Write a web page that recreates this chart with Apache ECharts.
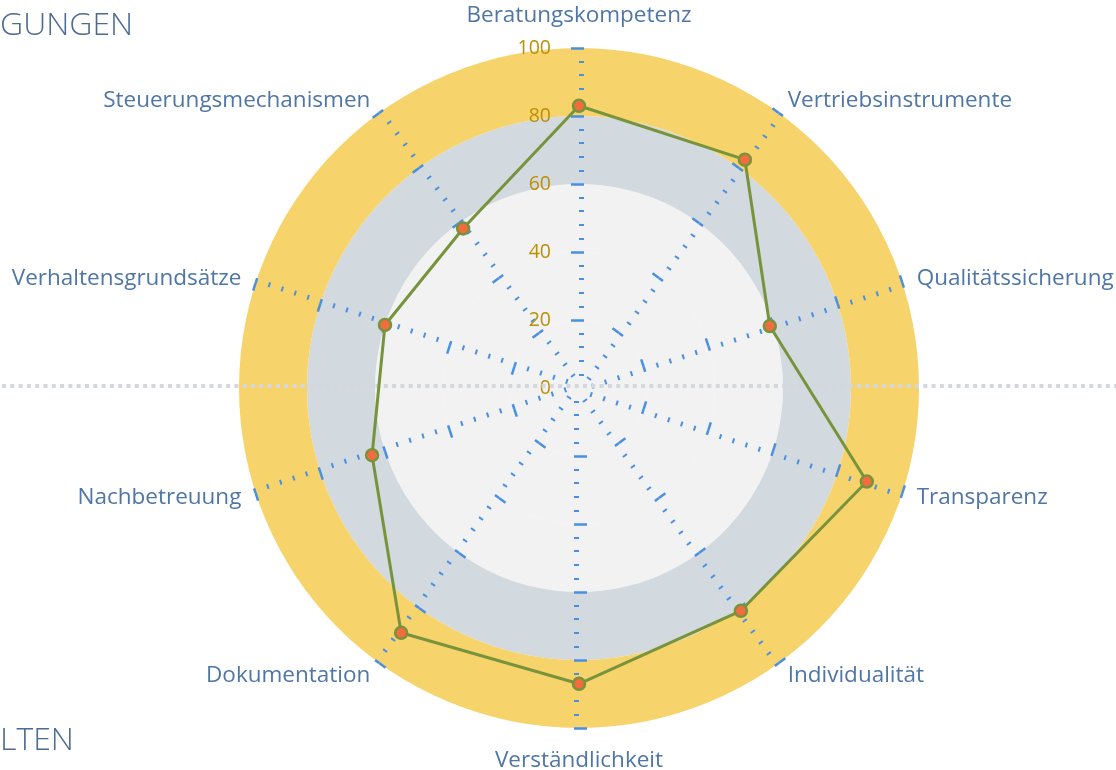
<!DOCTYPE html>
<html><head><meta charset="utf-8">
<script src="https://cdn.jsdelivr.net/npm/echarts@6/dist/echarts.min.js"></script>
<style>html,body{margin:0;padding:0;background:#fff}#c{width:1116px;height:770px}</style>
</head><body><div id="c"></div>
<script>
const indicatorsClockwise = ['Beratungskompetenz','Vertriebsinstrumente','Qualitätssicherung','Transparenz','Individualität','Verständlichkeit','Dokumentation','Nachbetreuung','Verhaltensgrundsätze','Steuerungsmechanismen'];
const scores = [83, 83, 59, 89, 81, 87, 89, 64, 60, 58];
const axisMin = 0;
const axisMax = 100;
const ringColors = ['#f2f2f2', '#f2f2f2', '#f2f2f2', '#d2d9df', '#f7d36b'];
const sideTitles = ['GUNGEN', 'LTEN'];

const FONT = 'Open Sans';
const tickBlue = '#4a90e2';

// ECharts radar runs counterclockwise: keep first, reverse the rest
const order = [0].concat(indicatorsClockwise.map((_, i) => i).slice(1).reverse());
const indicator = order.map((idx, k) => ({
  name: indicatorsClockwise[idx], min: axisMin, max: axisMax,
  axisLabel: { show: k === 0 },
  minorTick: { show: true, splitNumber: 5, length: -5, lineStyle: { color: tickBlue, width: 2 } }
}));
const indicator2 = order.map(idx => ({ name: indicatorsClockwise[idx], min: axisMin, max: axisMax }));
const values = order.map(idx => scores[idx]);

const chart = echarts.init(document.getElementById('c'), null, { renderer: 'canvas' });
const W = chart.getWidth();
const CY = 386;
const center = [579, 388];
const R = 340;

chart.setOption({
  animation: false,
  backgroundColor: '#ffffff',
  graphic: [
    { type: 'circle', z: 2, silent: true,
      shape: { cx: center[0], cy: center[1], r: 10 },
      style: { fill: ringColors[0] } },
    { type: 'line', z: 3, silent: true,
      shape: { x1: 2, y1: CY, x2: W, y2: CY },
      style: { stroke: '#d4d8dc', lineWidth: 4, lineDash: [4, 4.3] } },
    { type: 'text', left: 0, top: 10, style: { text: sideTitles[0], fill: '#4d6a8f', font: '300 32px "Open Sans"' } },
    { type: 'text', left: 0, top: 725, style: { text: sideTitles[1], fill: '#4d6a8f', font: '300 32px "Open Sans"' } }
  ],
  radar: [{
    z: 1,
    center: center,
    radius: R,
    startAngle: 90,
    shape: 'circle',
    splitNumber: 5,
    nameGap: 15,
    indicator: indicator,
    axisName: { color: '#4f76a6', fontSize: 22.5, fontFamily: FONT, lineHeight: 35 },
    axisLine: { show: false },
    axisTick: { show: true, length: 8, lineStyle: { color: tickBlue, width: 2.5 } },
    axisLabel: { show: false, color: '#bb8f06', fontSize: 19.5, fontFamily: FONT, margin: 28 },
    splitLine: { show: false },
    splitArea: { show: true, areaStyle: { color: ringColors } }
  }, {
    z: 1,
    center: center,
    radius: R,
    startAngle: 90,
    shape: 'circle',
    splitNumber: 5,
    indicator: indicator2,
    axisName: { show: false },
    axisLine: { show: false },
    axisTick: { show: true, length: -5, lineStyle: { color: tickBlue, width: 2.5 } },
    axisLabel: { show: false },
    splitLine: { show: false },
    splitArea: { show: false }
  }],
  series: [{
    type: 'radar',
    radarIndex: 0,
    z: 5,
    symbol: 'circle',
    symbolSize: 12,
    itemStyle: { color: '#f36c3d', borderColor: '#77933c', borderWidth: 2.5 },
    lineStyle: { color: '#77933c', width: 3 },
    data: [{ value: values }]
  }]
});
</script></body></html>
